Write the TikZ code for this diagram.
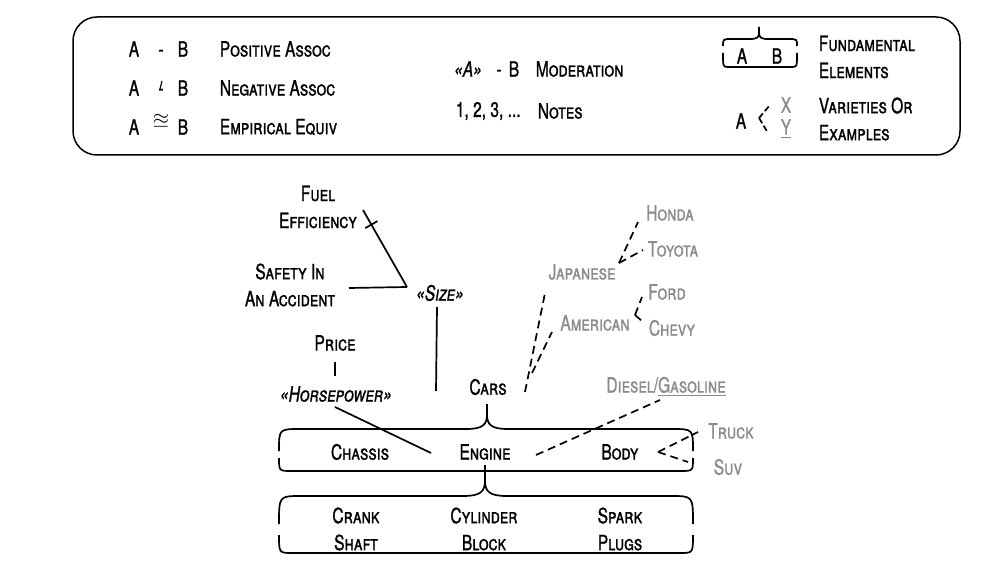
\documentclass[tikz,border=0pt]{standalone}
\usepackage{amssymb}
\usepackage{fontspec}
\setmainfont{TeX Gyre Heros}[FakeStretch=0.74,FakeBold=1]
\usepackage{tikz}
\usetikzlibrary{arrows,decorations.markings}

\definecolor{vargray}{gray}{0.55}

% fundamental elements bracket: L, T, R, B, tip x, tip y, gap top, gap bottom, radius
\newcommand{\fundbox}[9]{%
  \draw[fund] (#1,#7) .. controls (#1,#2) .. (#1+#9,#2) -- (#5-#9,#2)
    .. controls (#5-0.2*#9,#2) and (#5,#2-0.2*#9) .. (#5,#2-0.7*#9) -- (#5,#6);
  \draw[fund] (#5,#2-0.7*#9) .. controls (#5,#2-0.2*#9) and (#5+0.2*#9,#2) .. (#5+#9,#2)
    -- (#3-#9,#2) .. controls (#3,#2) .. (#3,#7);
  \draw[fund] (#1,#8) .. controls (#1,#4) .. (#1+0.6*#9,#4) -- (#3-0.6*#9,#4) .. controls (#3,#4) .. (#3,#8);
}

\begin{document}
\begin{tikzpicture}[x=1pt,y=-1pt,line width=1.7pt,
    every node/.style={font=\fontsize{21}{27}\selectfont\scshape,inner sep=0pt},
    lbl/.style={align=center},
    var/.style={text=vargray},
    sym/.style={text height=15pt,text depth=0pt},
    fund/.style={line width=1.7pt},
    varline/.style={dash pattern=on 8pt off 5pt},
    negassoc/.style={postaction={decorate,decoration={markings,
        mark=at position #1 with {\draw (0pt,-7pt) -- (0pt,7pt);}}}}]
        \useasboundingbox (0,0) rectangle (991,572);

        % legend
        \draw[line width=1.5pt,rounded corners=24pt] (73,17) rectangle (960,155);
        \node (lgA1) at (134,49) {A};
        \node[sym] (lgpos) at (161,49) {-};
        \node (lgB1) at (183,49) {B};
        \node[anchor=west] (lgposT) at (219,49) {Positive Assoc};
        \node (lgA2) at (134,88) {A};
        \node[sym] (lgneg) at (161,88) {-};
        \draw[line width=1.2pt] ([shift={(1,-7)}]lgneg.center) -- ([shift={(-1,1)}]lgneg.center);
        \node (lgB2) at (183,88) {B};
        \node[anchor=west] (lgnegT) at (219,88) {Negative Assoc};
        \node (lgA3) at (134,127) {A};
        \node (lgeq) at (161,121) {$\approxeq$};
        \node (lgB3) at (183,127) {B};
        \node[anchor=west] (lgeqT) at (219,127) {Empirical Equiv};

        \node (lgmodA) at (468,69) {\itshape«A»};
        \node[sym] (lgmod) at (499,69) {-};
        \node (lgmodB) at (514,69) {B};
        \node[anchor=west] (lgmodT) at (535,69) {Moderation};
        \node[anchor=west] (lgnum) at (455,111) {1, 2, 3, ...};
        \node[anchor=west] (lgnumT) at (537,111) {Notes};

        \fundbox{723}{39}{797}{67}{759}{27}{46}{53}{9}
        \node (lgfA) at (742,56) {A};
        \node (lgfB) at (777,56) {B};
        \node[anchor=west,align=left] (lgfT) at (818,57) {Fundamental\\Elements};
        \node (lgvA) at (741,121) {A};
        \node[var] (lgvX) at (786,105) {X};
        \node[var] (lgvY) at (786,129) {\underline{Y}};
        \draw[varline,dash pattern=on 6pt off 3pt] ([shift={(18,-3)}]lgvA.center) -- ([shift={(-16,0)}]lgvX.center);
        \draw[varline,dash pattern=on 6pt off 3pt] ([shift={(18,-3)}]lgvA.center) -- ([shift={(-18,4)}]lgvY.center);
        \node[anchor=west,align=left] (lgvT) at (818,119) {Varieties Or\\Examples};

        % cars
        \node[lbl] (fuel) at (318,207) {Fuel\\Efficiency};
        \node[lbl] (safety) at (290,285) {Safety In\\An Accident};
        \node (size) at (440,293) {\itshape«Size»};
        \node (price) at (335,343) {Price};
        \node (horse) at (336,394) {\itshape«Horsepower»};
        \node (cars) at (488,387) {Cars};
        \node[var] (japanese) at (582,272) {Japanese};
        \node[var] (american) at (595,323) {American};
        \node[var] (honda) at (670,213) {Honda};
        \node[var] (toyota) at (673,249) {Toyota};
        \node[var] (ford) at (667,292) {Ford};
        \node[var] (chevy) at (672,328) {Chevy};
        \node[var] (diesel) at (666,387) {Diesel/\underline{Gasoline}};
        \node (chassis) at (360,452) {Chassis};
        \node (engine) at (485,452) {Engine};
        \node (body) at (620,452) {Body};
        \node[var] (truck) at (731,431) {Truck};
        \node[var] (suv) at (728,467) {Suv};
        \node[lbl] (crank) at (356,529) {Crank\\Shaft};
        \node[lbl] (cylinder) at (484,529) {Cylinder\\Block};
        \node[lbl] (spark) at (620,529) {Spark\\Plugs};

        \coordinate (sizej) at (407,287);
        \coordinate (sizeend) at (436,391);
        \coordinate (hpend) at (431,453);

        \fundbox{279}{429}{693}{471}{487}{404}{451}{458}{21}
        \fundbox{279}{496}{693}{553}{485}{465}{524}{535}{22}

        \draw[negassoc=.19] ([shift={(45,3)}]fuel.center) -- (sizej);
        \draw (sizej) -- ([shift={(59,3)}]safety.center);
        \draw ([shift={(-3,14)}]size.center) -- (sizeend);
        \draw ([shift={(0,19)}]price.center) -- ([shift={(-1,-18)}]horse.center);
        \draw ([shift={(-1,13)}]horse.center) -- (hpend);

        \draw[varline] ([shift={(37,5)}]cars.center) -- ([shift={(-37,21)}]japanese.center);
        \draw[varline] ([shift={(44,-14)}]cars.center) -- ([shift={(-43,9)}]american.center);
        \draw[varline] ([shift={(37,-9)}]japanese.center) -- ([shift={(-32,9)}]honda.center);
        \draw[varline] ([shift={(37,-9)}]japanese.center) -- ([shift={(-30,1)}]toyota.center);
        \draw[varline] ([shift={(40,-8)}]american.center) -- ([shift={(-25,5)}]ford.center);
        \draw[varline] ([shift={(40,-8)}]american.center) -- ([shift={(-29,-6)}]chevy.center);
        \draw[varline] ([shift={(51,3)}]engine.center) -- ([shift={(-6,13)}]diesel.center);
        \draw[varline] ([shift={(38,0)}]body.center) -- ([shift={(-33,1)}]truck.center);
        \draw[varline] ([shift={(38,0)}]body.center) -- ([shift={(-40,-5)}]suv.center);
\end{tikzpicture}
\end{document}
